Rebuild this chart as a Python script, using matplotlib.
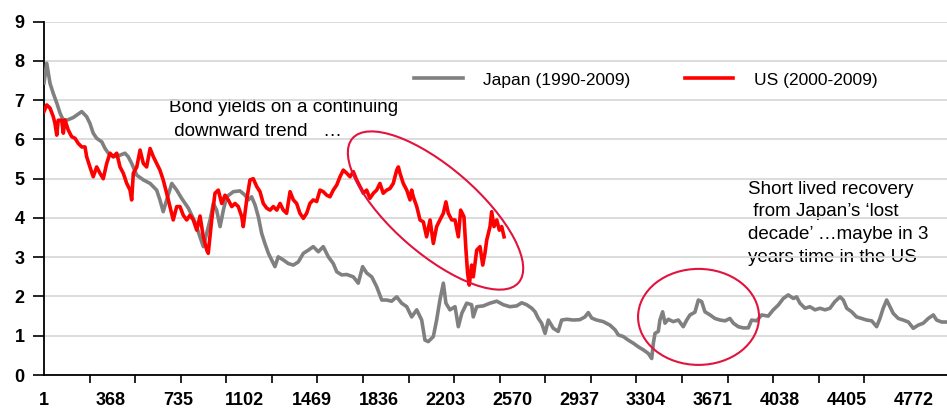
import matplotlib
matplotlib.use("Agg")
from matplotlib import pyplot as plt
from matplotlib.patches import Ellipse
from matplotlib.transforms import ScaledTranslation

# trading day index and 10y yield (%)
japan_day = [1, 16, 34, 52, 71, 89, 107, 126, 162, 208, 235, 253, 271, 290, 318, 336, 354, 381, 418, 445,
             463, 482, 510, 546, 583, 619, 637, 655, 674, 702, 729, 756, 793, 829, 875, 912, 930, 948, 967, 985,
             1003, 1040, 1076, 1104, 1122, 1140, 1159, 1177, 1195, 1213, 1232, 1250, 1268, 1286, 1314, 1341,
             1369, 1396, 1424, 1451, 1478, 1506, 1533, 1561, 1588, 1607, 1634, 1662, 1698, 1725, 1749, 1771,
             1799, 1826, 1854, 1881, 1908, 1936, 1963, 1991, 2018, 2046, 2073, 2091, 2109, 2137, 2155, 2173,
             2192, 2206, 2228, 2256, 2274, 2293, 2320, 2347, 2356, 2375, 2411, 2448, 2485, 2521, 2557, 2594,
             2622, 2649, 2677, 2695, 2713, 2731, 2750, 2768, 2795, 2822, 2841, 2869, 2905, 2941, 2969, 2987,
             3006, 3033, 3069, 3106, 3134, 3152, 3179, 3206, 3234, 3261, 3289, 3316, 3335, 3344, 3353, 3371,
             3380, 3395, 3408, 3426, 3453, 3481, 3508, 3527, 3545, 3572, 3591, 3609, 3627, 3655, 3682, 3710,
             3737, 3764, 3783, 3810, 3837, 3865, 3883, 3911, 3938, 3974, 4002, 4029, 4057, 4084, 4112, 4130,
             4148, 4176, 4203, 4231, 4258, 4286, 4313, 4340, 4368, 4386, 4405, 4432, 4459, 4487, 4514, 4542,
             4569, 4587, 4605, 4624, 4642, 4660, 4688, 4715, 4743, 4770, 4797, 4825, 4852, 4880, 4898, 4926,
             4953]
japan_yield = [7.44, 7.94, 7.43, 7.17, 6.93, 6.67, 6.49, 6.49, 6.56, 6.71, 6.58, 6.41, 6.16, 6.03, 5.94, 5.77,
               5.65, 5.56, 5.60, 5.65, 5.56, 5.39, 5.09, 4.97, 4.88, 4.71, 4.46, 4.16, 4.46, 4.88, 4.71, 4.50,
               4.25, 3.90, 3.27, 3.95, 4.37, 4.20, 3.78, 4.20, 4.54, 4.67, 4.69, 4.58, 4.46, 4.54, 4.33, 4.03,
               3.61, 3.35, 3.10, 2.93, 2.76, 3.01, 2.93, 2.84, 2.80, 2.88, 3.10, 3.18, 3.27, 3.14, 3.27, 3.01,
               2.84, 2.63, 2.55, 2.56, 2.50, 2.34, 2.76, 2.60, 2.50, 2.25, 1.91, 1.91, 1.88, 1.99, 1.83, 1.74,
               1.48, 1.66, 1.40, 0.89, 0.85, 0.98, 1.40, 1.91, 2.34, 1.83, 1.66, 1.74, 1.23, 1.57, 1.83, 1.79,
               1.48, 1.74, 1.76, 1.83, 1.88, 1.79, 1.74, 1.76, 1.84, 1.79, 1.70, 1.61, 1.44, 1.32, 1.06, 1.40,
               1.19, 1.11, 1.40, 1.42, 1.40, 1.41, 1.48, 1.59, 1.45, 1.40, 1.36, 1.27, 1.15, 1.02, 0.98, 0.89,
               0.81, 0.72, 0.64, 0.55, 0.42, 0.81, 1.06, 1.11, 1.40, 1.61, 1.32, 1.42, 1.36, 1.40, 1.23, 1.40,
               1.53, 1.60, 1.91, 1.87, 1.61, 1.53, 1.44, 1.40, 1.38, 1.44, 1.32, 1.23, 1.20, 1.20, 1.40, 1.38,
               1.53, 1.50, 1.66, 1.78, 1.95, 2.04, 1.95, 1.99, 1.83, 1.70, 1.74, 1.66, 1.70, 1.66, 1.70, 1.87,
               1.99, 1.91, 1.70, 1.61, 1.48, 1.44, 1.40, 1.38, 1.23, 1.44, 1.70, 1.91, 1.74, 1.57, 1.44, 1.40,
               1.35, 1.19, 1.27, 1.32, 1.44, 1.53, 1.40, 1.35, 1.35]

us_day = [1, 16, 34, 52, 61, 71, 79, 98, 107, 116, 134, 153, 171, 189, 208, 226, 235, 253, 271, 290, 308,
          326, 345, 363, 381, 400, 418, 436, 455, 473, 482, 491, 510, 528, 546, 564, 583, 601, 619, 637, 655,
          674, 692, 710, 729, 747, 765, 784, 802, 820, 839, 857, 875, 894, 902, 921, 939, 957, 976, 994, 1012,
          1031, 1049, 1067, 1086, 1094, 1113, 1131, 1149, 1168, 1186, 1204, 1223, 1241, 1259, 1278, 1296,
          1314, 1332, 1351, 1369, 1387, 1405, 1424, 1442, 1460, 1478, 1497, 1515, 1533, 1552, 1570, 1588,
          1607, 1625, 1643, 1662, 1680, 1698, 1716, 1735, 1753, 1771, 1789, 1808, 1826, 1844, 1862, 1881,
          1899, 1917, 1936, 1945, 1954, 1972, 1991, 2009, 2018, 2027, 2046, 2064, 2082, 2100, 2119, 2137,
          2155, 2173, 2192, 2206, 2219, 2238, 2256, 2274, 2287, 2305, 2316, 2325, 2334, 2347, 2356, 2375,
          2393, 2408, 2420, 2430, 2448, 2457, 2470, 2485, 2499, 2512, 2525]
us_yield = [6.71, 6.88, 6.80, 6.58, 6.41, 6.11, 6.49, 6.49, 6.16, 6.50, 6.24, 6.07, 6.03, 5.90, 5.81, 5.81,
            5.56, 5.30, 5.05, 5.30, 5.14, 5.00, 5.39, 5.65, 5.56, 5.65, 5.30, 5.14, 4.88, 4.71, 4.46, 5.14,
            5.30, 5.73, 5.39, 5.30, 5.77, 5.56, 5.39, 5.22, 4.97, 4.63, 4.29, 3.95, 4.29, 4.29, 4.07, 3.95,
            4.07, 3.95, 3.69, 4.05, 3.52, 3.18, 3.10, 3.95, 4.63, 4.71, 4.37, 4.58, 4.46, 4.29, 4.37, 4.29,
            4.03, 3.78, 4.46, 4.97, 5.00, 4.80, 4.67, 4.37, 4.25, 4.20, 4.29, 4.20, 4.37, 4.20, 4.12, 4.67,
            4.46, 4.37, 4.12, 3.99, 4.12, 4.37, 4.46, 4.42, 4.71, 4.67, 4.58, 4.54, 4.71, 4.84, 5.05, 5.22,
            5.14, 5.05, 5.18, 4.97, 4.80, 4.63, 4.71, 4.50, 4.63, 4.71, 4.88, 4.63, 4.71, 4.75, 4.88, 5.22,
            5.30, 5.14, 4.88, 4.71, 4.46, 4.71, 4.54, 4.29, 3.95, 3.90, 3.52, 3.95, 3.35, 3.78, 3.95, 4.12,
            4.41, 4.12, 3.95, 3.95, 3.52, 4.20, 4.03, 3.18, 2.59, 2.29, 2.80, 2.50, 3.18, 3.27, 2.80, 3.10,
            3.44, 3.78, 4.16, 3.78, 3.95, 3.69, 3.78, 3.52]

tick_days = [1, 368, 735, 1102, 1469, 1836, 2203, 2570, 2937, 3304, 3671, 4038, 4405, 4772]
mark_days = list(range(1, 4502, 250))
y_ticks = list(range(0, 10))

plt.rcParams['font.family'] = ['Liberation Sans', 'DejaVu Sans']

fig = plt.figure(figsize=(9.47, 4.11), dpi=100)
ax = fig.add_axes([44 / 947, 36 / 411, 903 / 947, 353.3 / 411])

ax.plot(japan_day, japan_yield, color='#808080', lw=2.6, label='Japan (1990-2009)', zorder=3)
ax.plot(us_day, us_yield, color='#ff0000', lw=2.6, label='US (2000-2009)', zorder=4)

ax.set_xlim(1, 4955)
ax.set_ylim(0, 9)
ax.set_yticks(y_ticks)
ax.set_xticks(tick_days)
ax.set_xticks(mark_days, minor=True)
ax.tick_params(axis='x', which='major', length=0, pad=12, labelsize=13)
ax.tick_params(axis='x', which='minor', length=6, width=1.2, direction='out', color='black')
ax.tick_params(axis='y', length=8, width=1.2, pad=6, labelsize=13)
for lab in ax.get_xticklabels() + ax.get_yticklabels():
    lab.set_fontweight('bold')

ax.grid(axis='y', color='#d9d9d9', lw=1.3)
ax.set_axisbelow(True)
for side in ['top', 'right']:
    ax.spines[side].set_visible(False)
for side in ['left', 'bottom']:
    ax.spines[side].set_linewidth(1.3)
    ax.spines[side].set_color('black')

ax.legend(ncol=2, loc='center left', bbox_to_anchor=(414 / 947, 1 - 80 / 411),
          bbox_transform=fig.transFigure, frameon=False, fontsize=12.5,
          handlelength=2.8, handletextpad=1.2, columnspacing=3.1,
          borderpad=0, borderaxespad=0)

# annotations (grid lines run over them in the original)
ax.text(169 / 947, 1 - 99 / 411, 'Bond yields on a continuing\n downward trend   \u2026',
        transform=fig.transFigure, fontsize=13.5, va='top', ha='left', linespacing=1.5, zorder=0.4)
ax.text(748 / 947, 1 - 180.5 / 411,
        'Short lived recovery\n from Japan\u2019s \u2018lost\ndecade\u2019 \u2026maybe in 3\nyears time in the US',
        transform=fig.transFigure, fontsize=13.5, va='top', ha='left', linespacing=1.45, zorder=0.4)

# ellipses sized in pixels, centred on data points
e1 = Ellipse((0, 0), 220, 86, angle=-41, fill=False, ec='#e2133d', lw=1.5,
             transform=ScaledTranslation(2149, 4.19, ax.transData), zorder=5, clip_on=False)
e2 = Ellipse((0, 0), 121, 96, angle=0, fill=False, ec='#e2133d', lw=1.5,
             transform=ScaledTranslation(3592, 1.48, ax.transData), zorder=5, clip_on=False)
ax.add_patch(e1)
ax.add_patch(e2)

plt.savefig('out.png', dpi=100)
